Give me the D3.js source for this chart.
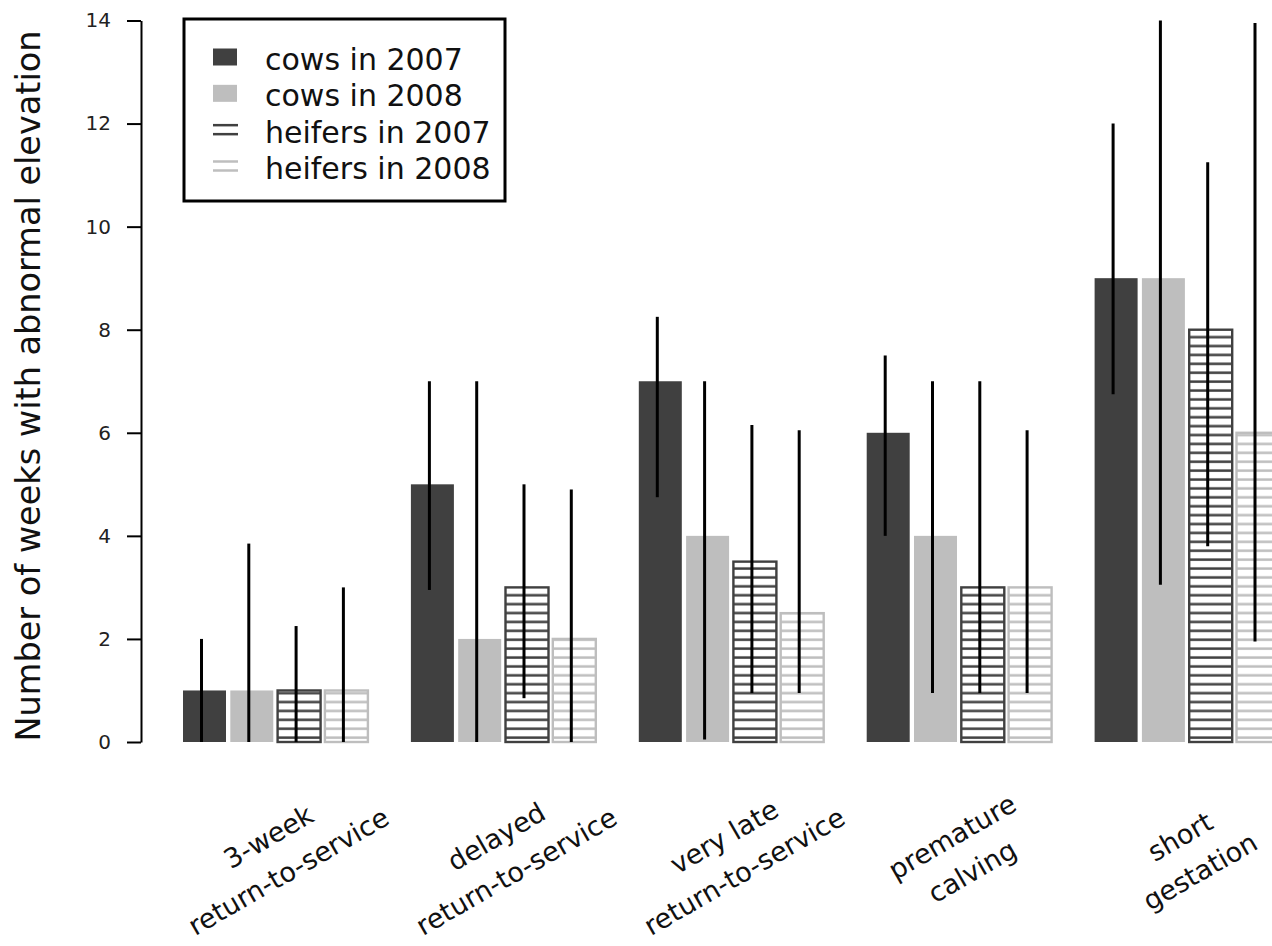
<!DOCTYPE html>
<html>
<head>
<meta charset="utf-8">
<script src="https://cdn.jsdelivr.net/npm/d3@7"></script>
<style>
  html, body { margin: 0; padding: 0; background: #ffffff; }
  svg { display: block; }
</style>
</head>
<body>
<svg id="chart" width="1272" height="946"></svg>
<script>
// Outcome categories, each label split over two lines
const categories = ["3-week", "delayed", "very late", "premature", "short"];
const labelLines = [
  ["3-week", "return-to-service"],
  ["delayed", "return-to-service"],
  ["very late", "return-to-service"],
  ["premature", "calving"],
  ["short", "gestation"]
];

const seriesNames = ["cows in 2007", "cows in 2008", "heifers in 2007", "heifers in 2008"];

// Median number of weeks with abnormal elevation
const cows2007    = [1, 5, 7, 6, 9];
const cows2008    = [1, 2, 4, 4, 9];
const heifers2007 = [1, 3, 3.5, 3, 8];
const heifers2008 = [1, 2, 2.5, 3, 6];

// Interval bounds drawn as vertical lines
const cows2007Low     = [0, 2.95, 4.75, 4, 6.75];
const cows2007High    = [2, 7, 8.25, 7.5, 12];
const cows2008Low     = [0, 0, 0.05, 0.95, 3.05];
const cows2008High    = [3.85, 7, 7, 7, 14];
const heifers2007Low  = [0, 0.85, 0.95, 0.95, 3.8];
const heifers2007High = [2.25, 5, 6.15, 7, 11.25];
const heifers2008Low  = [0, 0, 0.95, 0.95, 1.95];
const heifers2008High = [3, 4.9, 6.05, 6.05, 13.95];

const yTicks = [0, 2, 4, 6, 8, 10, 12, 14];

const seriesValues = [cows2007, cows2008, heifers2007, heifers2008];
const seriesLow  = [cows2007Low, cows2008Low, heifers2007Low, heifers2008Low];
const seriesHigh = [cows2007High, cows2008High, heifers2007High, heifers2008High];

const DARK = "#404040";
const LIGHT = "#bebebe";
const FONT = "'DejaVu Sans', Verdana, sans-serif";

const svg = d3.select("#chart");

const y = d3.scaleLinear().domain([0, 14]).range([742, 20.5]);

const x0 = d3.scaleBand()
  .domain(categories)
  .range([183, 1279.5])
  .paddingInner(0.1887)
  .paddingOuter(0);

const x1 = d3.scaleBand()
  .domain(seriesNames)
  .range([0, x0.bandwidth()])
  .paddingInner(0.0909)
  .paddingOuter(0);

// Horizontal hatching for the heifer series
const defs = svg.append("defs");
function hatch(id, color) {
  const p = defs.append("pattern")
    .attr("id", id)
    .attr("patternUnits", "userSpaceOnUse")
    .attr("x", 0)
    .attr("y", y(0))
    .attr("width", 20)
    .attr("height", 8.9);
  p.append("rect")
    .attr("x", 0).attr("y", 3.3)
    .attr("width", 20).attr("height", 2.5)
    .attr("fill", color);
}
hatch("hatch-dark", DARK);
hatch("hatch-light", LIGHT);

const styles = [
  { fill: DARK, stroke: "none" },
  { fill: LIGHT, stroke: "none" },
  { fill: "url(#hatch-dark)", stroke: DARK },
  { fill: "url(#hatch-light)", stroke: LIGHT }
];

const rows = [];
categories.forEach((c, i) => {
  seriesNames.forEach((s, j) => {
    rows.push({
      cat: c, series: s, j: j,
      value: seriesValues[j][i],
      low: seriesLow[j][i],
      high: seriesHigh[j][i]
    });
  });
});

// Bars
svg.append("g").selectAll("rect")
  .data(rows)
  .join("rect")
  .attr("x", d => x0(d.cat) + x1(d.series))
  .attr("y", d => y(d.value))
  .attr("width", x1.bandwidth())
  .attr("height", d => y(0) - y(d.value))
  .attr("fill", d => styles[d.j].fill)
  .attr("stroke", d => styles[d.j].stroke)
  .attr("stroke-width", 2.4);

// Interval lines
svg.append("g").selectAll("line")
  .data(rows)
  .join("line")
  .attr("x1", d => x0(d.cat) + x1(d.series) + x1.bandwidth() / 2 - 3)
  .attr("x2", d => x0(d.cat) + x1(d.series) + x1.bandwidth() / 2 - 3)
  .attr("y1", d => y(d.low))
  .attr("y2", d => y(d.high))
  .attr("stroke", "#000")
  .attr("stroke-width", 3);

// Y axis
const yAxis = svg.append("g")
  .attr("transform", "translate(141,0)")
  .call(d3.axisLeft(y).tickValues(yTicks).tickSize(14).tickPadding(16).tickSizeOuter(0));
yAxis.select(".domain").attr("stroke", "#000").attr("stroke-width", 2);
yAxis.selectAll(".tick line").attr("stroke", "#000").attr("stroke-width", 2);
yAxis.selectAll(".tick text")
  .attr("fill", "#222")
  .style("font-family", FONT)
  .style("font-size", "20px");

// Y axis title
svg.append("text")
  .attr("transform", "translate(40,386) rotate(-90)")
  .attr("text-anchor", "middle")
  .style("font-family", FONT)
  .style("font-size", "33.5px")
  .attr("fill", "#111")
  .text("Number of weeks with abnormal elevation");

// Category labels, rotated
const labels = svg.append("g").selectAll("g")
  .data(categories)
  .join("g")
  .attr("transform", (c) => `translate(${x0(c) + x0.bandwidth() / 2 + 3},854) rotate(-30)`);
labels.each(function(c, i) {
  const g = d3.select(this);
  labelLines[i].forEach((line, k) => {
    g.append("text")
      .attr("x", 0)
      .attr("y", k === 0 ? -20 : 20)
      .attr("text-anchor", "middle")
      .attr("dominant-baseline", "central")
      .style("font-family", FONT)
      .style("font-size", "27px")
      .attr("fill", "#111")
      .text(line);
  });
});

// Legend
const legend = svg.append("g");
legend.append("rect")
  .attr("x", 184).attr("y", 19)
  .attr("width", 321).attr("height", 182)
  .attr("fill", "#fff")
  .attr("stroke", "#000")
  .attr("stroke-width", 3);

const legendRowY = d3.scaleLinear().domain([0, 3]).range([57, 166]);
seriesNames.forEach((s, j) => {
  const cy = legendRowY(j);
  if (j < 2) {
    legend.append("rect")
      .attr("x", 213).attr("y", cy - 8.5)
      .attr("width", 24).attr("height", 17)
      .attr("fill", styles[j].fill);
  } else {
    const col = j === 2 ? DARK : LIGHT;
    [-4.5, 4.5].forEach(off => {
      legend.append("line")
        .attr("x1", 213).attr("x2", 238)
        .attr("y1", cy + off).attr("y2", cy + off)
        .attr("stroke", col)
        .attr("stroke-width", 2.5);
    });
  }
  legend.append("text")
    .attr("x", 265)
    .attr("y", cy + 13)
    .style("font-family", FONT)
    .style("font-size", "30px")
    .attr("fill", "#111")
    .text(s);
});
</script>
</body>
</html>
